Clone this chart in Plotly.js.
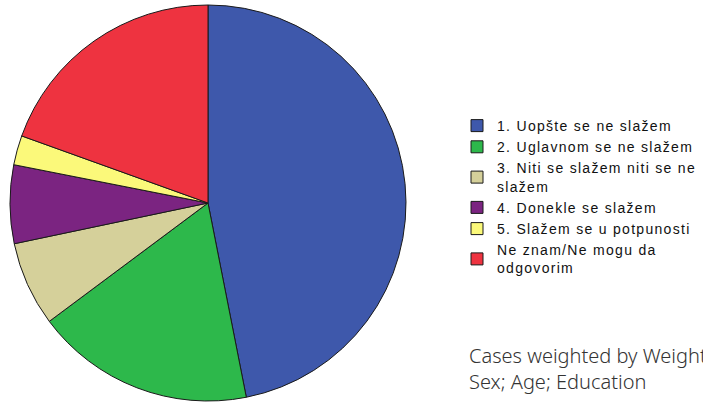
<!DOCTYPE html>
<html>
<head>
<meta charset="utf-8">
<script src="https://cdn.plot.ly/plotly-3.0.1.min.js"></script>
<style>
html,body{margin:0;padding:0;background:#fff;}
#chart{width:703px;height:402px;}
.legendtext{letter-spacing:1.3px;}
</style>
</head>
<body>
<div id="chart"></div>
<script>
const categories = [
  "1. Uopšte se ne slažem",
  "2. Uglavnom se ne slažem",
  "3. Niti se slažem niti se ne<br>slažem",
  "4. Donekle se slažem",
  "5. Slažem se u potpunosti",
  "Ne znam/Ne mogu da<br>odgovorim"
];
const percents = [46.9, 17.9, 6.9, 6.4, 2.4, 19.5];
const colors = ["#3e58ab", "#2db84b", "#d5d09a", "#7b2481", "#fbf97a", "#ee3340"];
const noteText = "Cases weighted by Weight for<br>Sex; Age; Education";

const W = 703, H = 402;
const cx = 208, cy = 203, r = 198;

const trace = {
  type: "pie",
  labels: categories,
  values: percents,
  sort: false,
  direction: "clockwise",
  rotation: 0,
  textinfo: "none",
  hoverinfo: "label+percent",
  marker: { colors: colors, line: { color: "#1a1a1a", width: 1 } },
  domain: {
    x: [(cx - r) / W, (cx + r) / W],
    y: [(H - cy - r) / H, (H - cy + r) / H]
  }
};

const layout = {
  width: W, height: H,
  margin: { l: 0, r: 0, t: 0, b: 0 },
  paper_bgcolor: "#ffffff",
  showlegend: true,
  legend: {
    x: 457 / W, xanchor: "left",
    y: 1 - 110 / H, yanchor: "top",
    font: { family: "Liberation Sans, Arial, sans-serif", size: 14, color: "#111111" },
    bgcolor: "rgba(0,0,0,0)",
    traceorder: "normal"
  },
  annotations: [{
    text: noteText,
    xref: "paper", yref: "paper",
    x: 467 / W, xanchor: "left",
    y: 1 - 340 / H, yanchor: "top",
    showarrow: false, align: "left",
    font: { family: "Noto Sans, sans-serif", size: 20, color: "#333333", weight: 300 }
  }]
};

Plotly.newPlot("chart", [trace], layout, { displayModeBar: false, staticPlot: true });
</script>
</body>
</html>
